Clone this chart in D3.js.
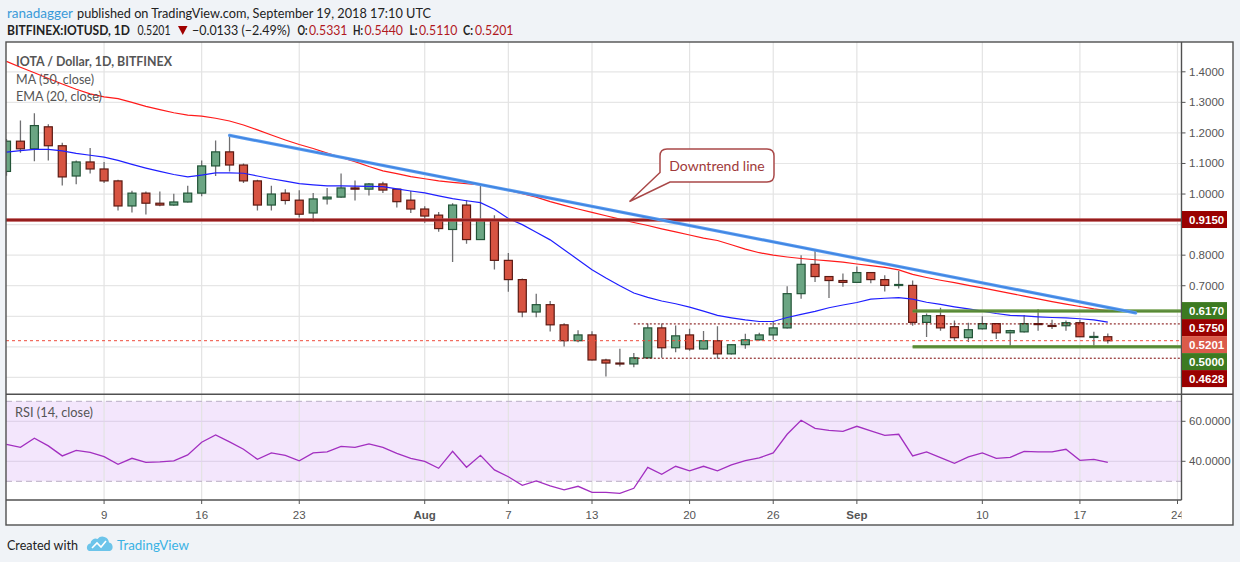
<!DOCTYPE html>
<html><head><meta charset="utf-8">
<script src="https://cdn.jsdelivr.net/npm/d3@7"></script>
<style>
body{margin:0;background:#f0f3f7;}
svg{display:block;}
</style>
</head><body>
<svg id="chart" width="1240" height="562"></svg>
<script>
// ---------------- DATA ----------------
const dates = [
"2018-07-02","2018-07-03","2018-07-04","2018-07-05","2018-07-06","2018-07-07","2018-07-08","2018-07-09","2018-07-10","2018-07-11",
"2018-07-12","2018-07-13","2018-07-14","2018-07-15","2018-07-16","2018-07-17","2018-07-18","2018-07-19","2018-07-20","2018-07-21",
"2018-07-22","2018-07-23","2018-07-24","2018-07-25","2018-07-26","2018-07-27","2018-07-28","2018-07-29","2018-07-30","2018-07-31",
"2018-08-01","2018-08-02","2018-08-03","2018-08-04","2018-08-05","2018-08-06","2018-08-07","2018-08-08","2018-08-09","2018-08-10",
"2018-08-11","2018-08-12","2018-08-13","2018-08-14","2018-08-15","2018-08-16","2018-08-17","2018-08-18","2018-08-19","2018-08-20",
"2018-08-21","2018-08-22","2018-08-23","2018-08-24","2018-08-25","2018-08-26","2018-08-27","2018-08-28","2018-08-29","2018-08-30",
"2018-08-31","2018-09-01","2018-09-02","2018-09-03","2018-09-04","2018-09-05","2018-09-06","2018-09-07","2018-09-08","2018-09-09",
"2018-09-10","2018-09-11","2018-09-12","2018-09-13","2018-09-14","2018-09-15","2018-09-16","2018-09-17","2018-09-18","2018-09-19"];

const open = [1.074,1.173,1.148,1.220,1.158,1.059,1.105,1.082,1.043,0.961,
1.003,0.970,0.964,0.974,1.003,1.092,1.138,1.095,1.043,0.964,
1.003,0.980,0.938,0.984,0.990,1.020,1.016,1.033,1.016,0.980,
0.951,0.931,0.884,0.964,0.851,0.914,0.783,0.720,0.614,0.638,
0.572,0.520,0.539,0.457,0.447,0.444,0.464,0.562,0.497,0.539,
0.493,0.520,0.477,0.507,0.523,0.539,0.562,0.674,0.770,0.730,
0.717,0.711,0.743,0.720,0.701,0.701,0.580,0.602,0.566,0.530,
0.559,0.576,0.546,0.549,0.576,0.570,0.569,0.579,0.533,0.5331];
const high = [1.180,1.241,1.264,1.228,1.168,1.110,1.151,1.105,1.047,1.011,
1.008,1.008,1.001,1.027,1.110,1.175,1.193,1.100,1.047,1.027,
1.016,1.012,1.003,1.020,1.067,1.044,1.036,1.040,1.016,1.010,
0.960,0.941,0.970,0.980,1.033,0.931,0.807,0.724,0.674,0.650,
0.577,0.554,0.551,0.461,0.494,0.480,0.576,0.576,0.570,0.559,
0.552,0.567,0.509,0.543,0.546,0.584,0.698,0.800,0.817,0.732,
0.740,0.763,0.745,0.734,0.748,0.717,0.609,0.628,0.586,0.579,
0.600,0.578,0.556,0.604,0.624,0.589,0.586,0.589,0.549,0.5440];
const low = [1.060,1.135,1.107,1.110,1.028,1.032,1.067,1.036,0.946,0.940,
0.933,0.960,0.962,0.972,0.993,1.059,1.074,1.036,0.946,0.946,
0.966,0.923,0.910,0.966,0.988,0.979,0.995,1.003,0.956,0.938,
0.906,0.877,0.778,0.837,0.851,0.753,0.680,0.597,0.597,0.550,
0.501,0.515,0.455,0.403,0.436,0.433,0.462,0.464,0.482,0.487,
0.491,0.461,0.475,0.494,0.521,0.523,0.560,0.657,0.712,0.660,
0.697,0.709,0.708,0.681,0.691,0.569,0.532,0.553,0.520,0.516,
0.557,0.526,0.503,0.547,0.553,0.558,0.553,0.532,0.500,0.5110];
const close = [1.173,1.148,1.224,1.158,1.056,1.105,1.082,1.043,0.961,1.003,
0.970,0.964,0.974,1.003,1.092,1.138,1.095,1.043,0.964,1.000,
0.979,0.934,0.984,0.990,1.020,1.016,1.033,1.013,0.975,0.951,
0.928,0.887,0.964,0.851,0.914,0.783,0.720,0.614,0.638,0.572,
0.520,0.539,0.457,0.447,0.444,0.464,0.562,0.497,0.536,0.493,
0.520,0.477,0.507,0.523,0.539,0.562,0.674,0.770,0.730,0.717,
0.711,0.743,0.720,0.701,0.704,0.580,0.602,0.562,0.530,0.556,
0.576,0.546,0.553,0.576,0.573,0.568,0.579,0.533,0.534,0.5201];

const ma50 = [1.434,1.415,1.397,1.378,1.360,1.343,1.328,1.318,1.312,1.300,
1.287,1.276,1.266,1.258,1.255,1.248,1.239,1.226,1.210,1.193,
1.177,1.162,1.149,1.134,1.120,1.106,1.090,1.076,1.067,1.057,
1.050,1.043,1.038,1.034,1.030,1.022,1.012,1.001,0.990,0.975,
0.963,0.951,0.940,0.929,0.918,0.907,0.897,0.886,0.876,0.866,
0.856,0.848,0.834,0.820,0.808,0.800,0.794,0.789,0.785,0.781,
0.777,0.771,0.766,0.760,0.752,0.737,0.727,0.718,0.710,0.701,
0.693,0.684,0.675,0.666,0.657,0.648,0.640,0.632,0.624,0.618];
const ema20 = [1.137,1.142,1.146,1.146,1.141,1.133,1.127,1.121,1.110,1.097,
1.085,1.074,1.064,1.056,1.062,1.069,1.069,1.068,1.059,1.050,
1.042,1.034,1.030,1.027,1.027,1.026,1.025,1.024,1.017,1.010,
1.004,0.994,0.985,0.978,0.972,0.950,0.920,0.900,0.875,0.850,
0.818,0.785,0.752,0.725,0.700,0.676,0.662,0.650,0.641,0.630,
0.617,0.603,0.595,0.588,0.583,0.583,0.596,0.606,0.616,0.628,
0.637,0.645,0.656,0.659,0.661,0.656,0.646,0.639,0.631,0.624,
0.617,0.609,0.603,0.601,0.598,0.596,0.595,0.592,0.588,0.581];
const rsi = [48.5,47.0,51.5,47.7,42.7,45.5,44.5,42.3,38.5,41.5,
39.5,39.7,40.2,43.2,49.5,53.2,49.7,46.0,41.0,44.2,
43.0,40.2,44.2,44.7,47.5,47.0,48.7,47.0,44.0,41.5,
40.0,36.5,45.0,37.0,43.0,35.7,32.3,28.0,30.2,27.7,
25.7,27.5,24.5,24.5,24.0,26.5,37.0,33.5,37.5,35.2,
37.5,35.2,38.2,40.3,41.7,44.2,53.5,60.5,56.5,55.5,
55.0,57.5,55.2,53.0,53.5,42.7,44.7,41.8,39.0,42.2,
44.2,41.5,42.0,45.0,44.7,44.7,46.0,40.5,41.0,39.5];

const priceTicks = [1.4,1.3,1.2,1.1,1.0,0.9,0.8,0.7,0.6,0.5,0.4];
const rsiTicks = [60,40];
const rsiBand = [70,30];
const timeTicks = ["2018-07-09","2018-07-16","2018-07-23","2018-08-01","2018-08-07","2018-08-13","2018-08-20","2018-08-26","2018-09-01","2018-09-10","2018-09-17","2018-09-24"];
const timeTickLabels = ["9","16","23","Aug","7","13","20","26","Sep","10","17","24"];

const trendDates = ["2018-07-18","2018-09-21"];
const trendValues = [1.192,0.611];
const resistanceLevels = [0.915];
const supportZone = [0.617,0.500];
const supportZoneStart = "2018-09-05";
const rangeLevels = [0.575,0.4628];
const rangeStart = "2018-08-16";
const lastPrice = 0.5201;
const calloutText = "Downtrend line";

// ---------------- SETUP ----------------
const svg = d3.select("#chart");
const parse = d3.utcParse("%Y-%m-%d");
const L = 6, R = 1181.5, FR = 1233, T = 42, MB = 394.3, RB = 500, B = 525;
const x = d3.scaleUtc().domain([parse("2018-07-02"), parse("2018-09-24")]).range([6.5, 1177.5]);
const y = d3.scaleLinear().domain([0.4, 1.4]).range([377.4, 71.8]);
const yr = d3.scaleLinear().domain([40, 60]).range([461.3, 421.3]);
const AX = "'Liberation Sans', Arial, sans-serif";
const UI = "Lato, 'Open Sans', sans-serif";

const candles = dates.map((d,i)=>({date:parse(d), o:open[i], h:high[i], l:low[i], c:close[i]}));

svg.append("rect").attr("width",1240).attr("height",562).attr("fill","#f0f3f7");
svg.append("rect").attr("x",L).attr("y",T).attr("width",FR-L).attr("height",B-T).attr("fill","#fff");

const defs = svg.append("defs");
defs.append("clipPath").attr("id","mainClip").append("rect").attr("x",L).attr("y",T).attr("width",R-L).attr("height",MB-T);
defs.append("clipPath").attr("id","rsiClip").append("rect").attr("x",L).attr("y",MB).attr("width",R-L).attr("height",RB-MB);
defs.append("clipPath").attr("id","xClip").append("rect").attr("x",L).attr("y",RB).attr("width",R-L).attr("height",B-RB);

// grid main horizontal
svg.append("g").selectAll("line").data(priceTicks).join("line")
  .attr("x1",L).attr("x2",R).attr("y1",d=>y(d)).attr("y2",d=>y(d))
  .attr("stroke","#e6e6e6").attr("stroke-width",1.2);
// RSI band
svg.append("rect").attr("x",L).attr("width",R-L)
  .attr("y",yr(rsiBand[0])).attr("height",yr(rsiBand[1])-yr(rsiBand[0]))
  .attr("fill","#f3e6fc");
// vertical grid
svg.append("g").selectAll("line").data(timeTicks).join("line")
  .attr("x1",d=>x(parse(d))).attr("x2",d=>x(parse(d))).attr("y1",T).attr("y2",RB)
  .attr("stroke","#e3e3e3").attr("stroke-width",1.2);
// RSI grid
svg.append("g").selectAll("line").data(rsiTicks).join("line")
  .attr("x1",L).attr("x2",R).attr("y1",d=>yr(d)).attr("y2",d=>yr(d))
  .attr("stroke","#e0d3ea").attr("stroke-width",1.2);
svg.append("g").selectAll("line").data(rsiBand).join("line")
  .attr("x1",L).attr("x2",R).attr("y1",d=>yr(d)).attr("y2",d=>yr(d))
  .attr("stroke","#b9adc4").attr("stroke-width",1).attr("stroke-dasharray","6,4");

// ---------------- MAIN PANE ----------------
const main = svg.append("g").attr("clip-path","url(#mainClip)");
const cw = 8;
const cg = main.append("g");
cg.selectAll(".wick").data(candles).join("line")
  .attr("x1",d=>x(d.date)).attr("x2",d=>x(d.date))
  .attr("y1",d=>y(d.h)).attr("y2",d=>y(d.l))
  .attr("stroke","#6f6f71").attr("stroke-width",1.3);
cg.selectAll(".body").data(candles).join("rect")
  .attr("x",d=>x(d.date)-cw/2).attr("width",cw)
  .attr("y",d=>y(Math.max(d.o,d.c)))
  .attr("height",d=>Math.max(1,Math.abs(y(d.o)-y(d.c))))
  .attr("fill",d=>d.c>=d.o?"#6ba583":"#d75442")
  .attr("stroke",d=>d.c>=d.o?"#225437":"#5b1a13").attr("stroke-width",1.2);

const lineGen = arr => d3.line().x((d,i)=>x(parse(dates[i]))).y(d=>y(d))(arr);
main.append("path").attr("d",lineGen(ma50)).attr("fill","none").attr("stroke","#ff1a1a").attr("stroke-width",1.2);
main.append("path").attr("d",lineGen(ema20)).attr("fill","none").attr("stroke","#1f1fff").attr("stroke-width",1.2);

// range dotted lines
main.selectAll(".rng").data(rangeLevels).join("line")
  .attr("x1",x(parse(rangeStart))).attr("x2",R).attr("y1",d=>y(d)).attr("y2",d=>y(d))
  .attr("stroke","#7a0000").attr("stroke-width",1).attr("stroke-dasharray","2,2");
// current price dashed
main.append("line").attr("x1",L).attr("x2",R).attr("y1",y(lastPrice)).attr("y2",y(lastPrice))
  .attr("stroke","#ee4c3c").attr("stroke-width",1).attr("stroke-dasharray","3,3");
// support zone green lines
main.selectAll(".sz").data(supportZone).join("line")
  .attr("x1",x(parse(supportZoneStart))).attr("x2",R).attr("y1",d=>y(d)).attr("y2",d=>y(d))
  .attr("stroke","#6a9a45").attr("stroke-width",3.5).attr("opacity",0.9);
main.selectAll(".sz2").data(supportZone).join("line")
  .attr("x1",x(parse(supportZoneStart))).attr("x2",R).attr("y1",d=>y(d)).attr("y2",d=>y(d))
  .attr("stroke","#4d7f2a").attr("stroke-width",1.2);
// resistance
main.selectAll(".res").data(resistanceLevels).join("line")
  .attr("x1",L).attr("x2",R).attr("y1",d=>y(d)).attr("y2",d=>y(d))
  .attr("stroke","#b54a4a").attr("stroke-width",3.5);
main.selectAll(".res2").data(resistanceLevels).join("line")
  .attr("x1",L).attr("x2",R).attr("y1",d=>y(d)).attr("y2",d=>y(d))
  .attr("stroke","#8c0f0f").attr("stroke-width",1.5);
// trend line
main.append("line")
  .attr("x1",x(parse(trendDates[0]))).attr("y1",y(trendValues[0]))
  .attr("x2",x(parse(trendDates[1]))).attr("y2",y(trendValues[1]))
  .attr("stroke","#5b9cf0").attr("stroke-width",3.2).attr("stroke-linecap","round");
main.append("line")
  .attr("x1",x(parse(trendDates[0]))).attr("y1",y(trendValues[0]))
  .attr("x2",x(parse(trendDates[1]))).attr("y2",y(trendValues[1]))
  .attr("stroke","#3f84e0").attr("stroke-width",1.4);

// callout
const cal = svg.append("g");
cal.append("path")
  .attr("d","M667,149 H767 Q774,149 774,156 V175 Q774,182 767,182 H670 L629.5,201.5 L660,172.5 V156 Q660,149 667,149 Z")
  .attr("fill","#fff").attr("stroke","#a94848").attr("stroke-width",1.5);
cal.append("text").attr("x",717).attr("y",165.5).attr("text-anchor","middle").attr("dominant-baseline","central")
  .attr("font-family",UI).attr("font-size",14).attr("fill","#a03a3a").text(calloutText);

// ---------------- RSI ----------------
const rg = svg.append("g").attr("clip-path","url(#rsiClip)");
rg.append("path")
  .attr("d", d3.line().x((d,i)=>x(parse(dates[i]))).y(d=>yr(d))(rsi))
  .attr("fill","none").attr("stroke","#a22fc0").attr("stroke-width",1.3);

// ---------------- FRAME ----------------
const fr = svg.append("g").attr("stroke","#505050").attr("stroke-width",1.4).attr("fill","none");
fr.append("rect").attr("x",L).attr("y",T).attr("width",FR-L).attr("height",B-T);
fr.append("line").attr("x1",L).attr("x2",FR).attr("y1",MB).attr("y2",MB);
fr.append("line").attr("x1",L).attr("x2",R).attr("y1",RB).attr("y2",RB);
fr.append("line").attr("x1",R).attr("x2",R).attr("y1",T).attr("y2",RB);

// price labels (computed first so covered tick labels can be skipped)
const labels = [];
resistanceLevels.forEach(v=>labels.push({v,fill:"#990000"}));
supportZone.forEach(v=>labels.push({v,fill:"#3c7a21"}));
rangeLevels.forEach(v=>labels.push({v,fill:"#990000"}));
labels.push({v:lastPrice,fill:"#db5a4a"});
labels.sort((a,b)=>b.v-a.v);
let prev = -1e9;
labels.forEach(l=>{ l.yy = Math.max(y(l.v)-0.5, prev+17); prev = l.yy; });
const hidden = t => labels.some(l => Math.abs(l.yy - y(t)) < 12);

// right axis ticks
const ra = svg.append("g");
ra.selectAll("line").data(priceTicks).join("line")
  .attr("x1",R).attr("x2",R+4).attr("y1",d=>y(d)).attr("y2",d=>y(d)).attr("stroke","#555");
ra.selectAll("text").data(priceTicks.filter(t=>!hidden(t))).join("text")
  .attr("x",1189).attr("y",d=>y(d)).attr("dominant-baseline","central")
  .attr("font-family",AX).attr("font-size",11.5).attr("fill","#555").text(d=>d.toFixed(4));
const rra = svg.append("g");
rra.selectAll("line").data(rsiTicks).join("line")
  .attr("x1",R).attr("x2",R+4).attr("y1",d=>yr(d)).attr("y2",d=>yr(d)).attr("stroke","#555");
rra.selectAll("text").data(rsiTicks).join("text")
  .attr("x",1189).attr("y",d=>yr(d)).attr("dominant-baseline","central")
  .attr("font-family",AX).attr("font-size",11.5).attr("fill","#555").text(d=>d.toFixed(4));

const lg = svg.append("g");
lg.selectAll("rect").data(labels).join("rect")
  .attr("x",1182).attr("width",45).attr("y",d=>d.yy-8.5).attr("height",17).attr("fill",d=>d.fill);
lg.selectAll("text").data(labels).join("text")
  .attr("x",1189).attr("y",d=>d.yy+0.5).attr("dominant-baseline","central")
  .attr("font-family",AX).attr("font-size",11.5).attr("font-weight","bold").attr("fill","#fff")
  .text(d=>d.v.toFixed(4));

// x axis
const xa = svg.append("g").attr("clip-path","url(#xClip)");
xa.selectAll("line").data(timeTicks).join("line")
  .attr("x1",d=>x(parse(d))).attr("x2",d=>x(parse(d))).attr("y1",RB).attr("y2",RB+4).attr("stroke","#555");
xa.selectAll("text").data(timeTicks).join("text")
  .attr("x",d=>x(parse(d))).attr("y",514.5).attr("text-anchor","middle").attr("dominant-baseline","central")
  .attr("font-family",AX).attr("font-size",11.5).attr("fill","#555")
  .attr("font-weight",(d,i)=>isNaN(+timeTickLabels[i])?"bold":"normal")
  .text((d,i)=>timeTickLabels[i]);

// legends
const leg = svg.append("g").attr("font-family",UI).attr("fill","#555");
leg.append("text").attr("x",16).attr("y",61).attr("dominant-baseline","central").attr("font-size",13.5).attr("font-weight","bold")
  .attr("textLength",156).attr("lengthAdjust","spacingAndGlyphs").text("IOTA / Dollar, 1D, BITFINEX");
leg.append("text").attr("x",16).attr("y",78.5).attr("dominant-baseline","central").attr("font-size",13.5)
  .attr("textLength",78).attr("lengthAdjust","spacingAndGlyphs").text("MA (50, close)");
leg.append("text").attr("x",16).attr("y",95.5).attr("dominant-baseline","central").attr("font-size",13.5)
  .attr("textLength",86).attr("lengthAdjust","spacingAndGlyphs").text("EMA (20, close)");
leg.append("text").attr("x",15).attr("y",412).attr("dominant-baseline","central").attr("font-size",13.5)
  .attr("textLength",78).attr("lengthAdjust","spacingAndGlyphs").text("RSI (14, close)");

// header
const hd = svg.append("g").attr("font-family",UI).attr("font-size",13);
function ht(xp, yp, s, w, fill, bold){
  hd.append("text").attr("x",xp).attr("y",yp).attr("dominant-baseline","central")
    .attr("fill",fill).attr("font-weight",bold?"bold":"normal")
    .attr("textLength",w).attr("lengthAdjust","spacingAndGlyphs").text(s);
}
ht(7,12.5,"ranadagger",66,"#3a9ad9",false);
ht(77,12.5,"published on TradingView.com, September 19, 2018 17:10 UTC",354,"#222",false);
ht(7,30,"BITFINEX:IOTUSD, 1D",123,"#222",true);
ht(137.5,30,"0.5201",33,"#222",false);
hd.append("path").attr("d","M178,26 L187.5,26 L182.75,35 Z").attr("fill","#a00000");
ht(192,30,"\u22120.0133 (\u22122.49%)",98,"#222",false);
ht(297.5,30,"O:",10,"#222",true);
ht(309,30,"0.5331",38.5,"#b0191e",false);
ht(353,30,"H:",10,"#222",true);
ht(364.5,30,"0.5440",38.5,"#b0191e",false);
ht(409.5,30,"L:",8,"#222",true);
ht(419,30,"0.5110",38.5,"#b0191e",false);
ht(463,30,"C:",10,"#222",true);
ht(475,30,"0.5201",38.5,"#b0191e",false);

// footer
const ft = svg.append("g").attr("font-family",UI).attr("font-size",14);
ft.append("text").attr("x",7).attr("y",544.5).attr("dominant-baseline","central").attr("fill","#222")
  .attr("textLength",71).attr("lengthAdjust","spacingAndGlyphs").text("Created with");
ft.append("path").attr("d","M89,551 H110 A4.5,4.5 0 0 0 109,542.5 A6.5,6.5 0 0 0 97.5,539 A5,5 0 0 0 90.5,543.5 A4,4 0 0 0 89,551 Z")
  .attr("fill","#6cc4ea");
ft.append("path").attr("d","M92,548 L97,543 L101,547 L106,541").attr("fill","none").attr("stroke","#fff").attr("stroke-width",1.6);
ft.append("text").attr("x",117).attr("y",544.5).attr("dominant-baseline","central").attr("fill","#3ab2e4")
  .attr("textLength",72).attr("lengthAdjust","spacingAndGlyphs").text("TradingView");
</script>
</body></html>
